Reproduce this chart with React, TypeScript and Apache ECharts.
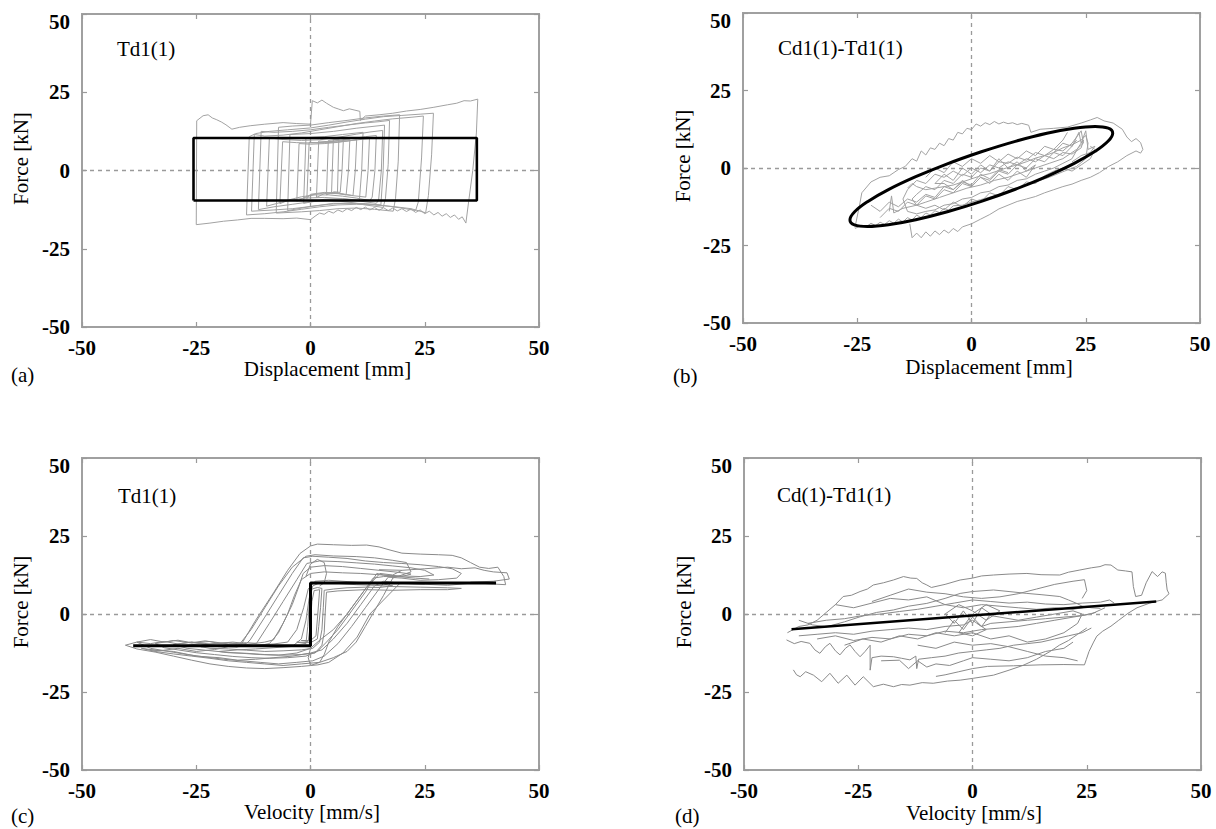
import React, { useEffect, useRef } from "react";
import * as echarts from "echarts";

// ---------- axis settings ----------
const axisMin = -50;
const axisMax = 50;
const axisStep = 25;

// ---------- panel (a): force vs displacement, Td1(1) ----------
const aModel = [[-25.6, -9.6], [-25.6, 10.4], [36.4, 10.4], [36.4, -9.6], [-25.6, -9.6]];
const aOuter = [[-25.0,-17.3],[-24.9,15.9],[-23.5,17.5],[-22.4,17.8],[-21.5,16.8],[-20.5,16.2],[-19.5,15.5],[-18.5,14.6],[-17.2,13.2],[-15.5,13.8],[-13.2,14.3],[-10,14.8],[-6,15.3],[-3,15.0],[0,14.8],[0.4,22.3],[1.5,21.6],[2.5,22.5],[3.5,21.5],[5,20.2],[6.2,19.6],[7.2,19.1],[8.5,19.7],[10.8,18.9],[10.9,16.0],[12,17.4],[15,17.8],[18,18.3],[21,19.0],[24,19.5],[27,20.2],[30,21.0],[32,21.5],[33.6,22.3],[35,22.2],[36.6,22.8],[36.3,12],[35.5,0],[34.6,-10],[34.0,-16.8],[33.2,-14.8],[32.4,-15.6],[31.5,-14.2],[30.6,-15.0],[29.7,-13.8],[28.8,-14.6],[27.9,-13.4],[27,-14.2],[26,-13.0],[25,-13.8],[24,-12.6],[23,-13.4],[22,-12.3],[21,-13.1],[20,-12.2],[19,-12.9],[18,-12.0],[17,-12.8],[16,-11.9],[15,-12.7],[14,-11.8],[13,-12.6],[12,-11.7],[11,-12.5],[10,-11.8],[9,-12.8],[8,-12.2],[7,-13.2],[6,-12.6],[5,-13.6],[4,-13.0],[3,-14.0],[2,-13.6],[1,-14.6],[0,-15.7],[-3,-15.2],[-6,-15.4],[-10,-15.3],[-13,-15.3],[-16,-15.8],[-19,-16.2],[-22,-16.8],[-25,-17.3]];
const aLoop2 = [[-14.0,-14.2],[-13.4,10.8],[-12,11.8],[-9,12.5],[-5,13.0],[0,13.6],[4,14.5],[8,15.5],[12,16.4],[16,17.2],[20,17.6],[24,18.0],[26.9,18.3],[26.5,5],[25.8,-8],[25.2,-13.5],[22,-12.2],[18,-11.5],[14,-11.0],[10,-10.8],[6,-11.0],[2,-11.6],[-2,-12.4],[-6,-13.2],[-10,-13.8],[-14.0,-14.2]];
const aLoop3 = [[-12.9,-13.0],[-12.3,11.5],[-10,11.0],[-6,11.3],[-2,12.0],[2,13.0],[6,14.0],[10,15.0],[14,15.8],[18,16.5],[22,17.0],[24.7,17.4],[24.3,4],[23.6,-10],[23.0,-12.8],[20,-12.0],[16,-11.2],[12,-10.6],[8,-10.4],[4,-10.8],[0,-11.5],[-4,-12.2],[-8,-12.6],[-12.9,-13.0]];
const aLoop4 = [[-11.4,-12.5],[-10.8,12.5],[-8,12.2],[-4,12.5],[0,13.0],[4,13.8],[8,14.5],[12,15.2],[15,15.6],[17.3,16.0],[17.0,2],[16.4,-9],[15.9,-11.8],[12,-11.0],[8,-10.0],[4,-9.6],[0,-10.0],[-4,-10.8],[-8,-11.6],[-11.4,-12.5]];
const aLoop5 = [[-9.6,-11.4],[-9.0,10.4],[-6,9.9],[-2,9.6],[2,9.8],[6,10.6],[10,11.6],[13,12.3],[15.8,12.8],[15.5,0],[14.9,-9.5],[14.4,-10.5],[11,-9.8],[7,-9.0],[3,-8.6],[-1,-8.8],[-5,-9.6],[-9.6,-11.4]];
const aLoop6 = [[-6.7,-10.6],[-6.1,9.2],[-3,8.9],[0,8.8],[3,9.0],[6,9.6],[9,10.2],[12,10.8],[14.4,11.2],[14.1,0],[13.5,-8.5],[13.0,-9.6],[10,-8.8],[7,-8.2],[4,-7.8],[1,-7.8],[-2,-8.4],[-4.5,-9.3],[-6.7,-10.6]];
const aLoop7 = [[-3.0,-9.8],[-2.5,8.6],[0,8.4],[3,8.6],[6,9.0],[9,9.6],[12.9,10.2],[12.6,0],[12.1,-8.5],[9,-8.0],[6,-7.4],[3,-7.2],[0,-7.8],[-3.0,-9.8]];
const aLoop8 = [[-0.8,-9.0],[-0.3,9.0],[2,8.8],[5,9.0],[8,9.4],[10.1,9.8],[9.8,0],[9.3,-8.0],[6,-7.2],[3,-7.0],[0,-7.6],[-0.8,-9.0]];
const aLoop9 = [[1.3,-8.6],[1.8,9.4],[4,9.2],[6,9.4],[8.6,9.8],[8.3,0],[7.8,-7.8],[5,-7.0],[3,-7.4],[1.3,-8.6]];
const aLoop10 = [[3.5,-7.8],[3.9,9.6],[5,9.8],[5.6,9.9],[7.2,10.2],[6.9,0],[6.5,-7.0],[5.2,-6.8],[3.5,-7.8]];
const aLoop11 = [[4.6,-7.4],[5.0,9.9],[6.2,10.0],[5.9,-7.2],[4.6,-7.4]];
const aLoop12 = [[-7.5,-13.6],[-7.0,13.8],[-4,14.2],[0,14.5],[4,15.3],[8,16.0],[12,16.8],[16,17.4],[19.5,17.8],[19.2,3],[18.6,-9],[18.1,-13.0],[14,-12.4],[10,-12.0],[6,-12.2],[2,-12.8],[-2,-13.2],[-7.5,-13.6]];
const aLoop13 = [[-5,-12.8],[-4.5,11.5],[0,11.8],[5,12.5],[10,13.5],[16.2,14.5],[15.9,0],[15.4,-11],[10,-10.5],[5,-10.5],[0,-11.5],[-5,-12.8]];
const aLoop14 = [[-1.5,-10.5],[-1,10.5],[3,10.8],[7,11.5],[11.5,12.2],[11.2,0],[10.7,-9.5],[7,-9],[3,-9.2],[-1.5,-10.5]];
const aTraces = [aOuter, aLoop2, aLoop3, aLoop4, aLoop5, aLoop6, aLoop7, aLoop8, aLoop9, aLoop10, aLoop11, aLoop12, aLoop13, aLoop14];

// ---------- panel (b): force vs displacement, Cd1(1)-Td1(1) ----------
const bModel = [[2.15,5.25],[9.59,8.60],[16.5,11.2],[22.48,12.81],[27.05,13.37],[29.92,12.84],[30.9,11.25],[29.92,8.70],[27.05,5.37],[22.48,1.49],[16.5,-2.68],[9.59,-6.86],[2.15,-10.75],[-5.29,-14.10],[-12.2,-16.68],[-18.18,-18.31],[-22.75,-18.87],[-25.62,-18.34],[-26.6,-16.75],[-25.62,-14.20],[-22.75,-10.87],[-18.18,-6.99],[-12.2,-2.82],[-5.29,1.36],[2.15,5.25]];
const bOuter = [[-25.5,-19.2],[-24.5,-12],[-24,-8],[-22,-4.5],[-20,-3],[-18,-2.5],[-16,-0.5],[-14.5,0.5],[-13,3],[-12,2.2],[-11,5.5],[-10,4.2],[-9,6.5],[-8,6.0],[-7,8.0],[-6,7.2],[-5,9.5],[-4,9.0],[-3,11.5],[-2,11.0],[-1,12.8],[0,12.4],[1,14.2],[2,13.5],[3,14.6],[4,14.0],[5,15.0],[6,14.2],[7,14.8],[8,14.3],[9,14.6],[10,14.0],[11,14.4],[12.5,13.8],[13,11.5],[15,12.5],[18,12.8],[21,13.2],[24,14.5],[26,15.5],[27.5,16.3],[29,15.2],[31,14.5],[33,12.5],[34,10],[35,8.5],[36,9.5],[37,8.2],[37.5,6.0],[37,4.8],[36,5.5],[34,4.0],[32,2.0],[30,0.5],[28,-1.5],[26,-3.0],[24,-4.0],[22,-5.2],[20,-6.0],[18,-7.0],[16,-8.0],[14,-9.2],[12,-10.0],[10,-10.8],[8,-12.0],[6,-13.2],[4,-15.0],[2,-16.5],[0,-18.0],[-2,-19.0],[-3,-20.5],[-4,-19.5],[-5,-21.0],[-6,-20.0],[-7,-21.5],[-8,-20.3],[-9,-22.0],[-10,-20.6],[-11,-22.5],[-12,-21.0],[-13,-22.5],[-13.5,-18]];
const bLoop2 = [[-25.5,-19.5],[-24,-18.5],[-23,-19.0],[-22,-17.8],[-21,-18.6],[-20,-17.5],[-19,-18.2],[-18,-17.0],[-17,-17.8],[-16,-16.5],[-15,-17.4],[-14,-16.0],[-13,-16.8],[-12,-15.2],[-11,-16.0],[-10,-14.5],[-9,-15.2],[-8,-13.8],[-7,-14.4],[-6,-13.0],[-5,-13.6],[-4,-12.2],[-2,-12.0],[0,-11.0],[2,-10.2],[5,-9.0],[8,-7.5],[11,-6.0],[14,-4.5],[17,-3.0],[20,-1.2],[23,0.5],[25,3.0],[25.5,8],[25,10.5],[24,9],[22,7.5],[20,6.5],[18,5.0],[16,4.0],[14,3.2],[12,2.0],[10,1.0],[8,0.2],[6,-0.8],[4,-1.8],[2,-2.5],[0,-3.5],[-2,-4.5],[-4,-5.5],[-6,-6.0],[-8,-6.5],[-10,-7.0],[-12,-6.0],[-13,-5.0],[-14,-6.5]];
const bLoop3 = [[-14,-7],[-12,-4],[-10,-5],[-8,-2],[-6,-3],[-4,-1],[-2,-2.5],[0,0],[2,-1.5],[4,1],[6,0],[8,2],[10,1],[12,3],[14,2],[16,4],[18,3],[20,5],[22,4.5],[24,6.5],[24.5,9],[23.5,7],[22,3],[20,1.5],[18,0],[16,-1],[14,-2],[12,-3.5],[10,-4],[8,-5.5],[6,-6],[4,-7.5],[2,-8],[0,-9.5],[-2,-10],[-4,-11.5],[-6,-12],[-8,-13.5],[-10,-14],[-12,-14.8],[-14,-14],[-15,-10],[-14,-7]];
const bLoop4 = [[-12,-8.5],[-10,-6],[-8,-7],[-6,-4],[-4,-5],[-2,-2],[0,-3],[2,0],[4,-1],[6,2],[8,1.5],[10,3.5],[12,2.5],[14,5],[16,4],[18,6],[20,5.5],[22,8],[23,10],[24,12],[24.5,8],[23,6],[20,3],[17,1.5],[14,0],[11,-1.5],[8,-3],[5,-4],[2,-5.5],[-1,-6.5],[-4,-8],[-7,-9.5],[-10,-11],[-12,-12],[-13,-10],[-12,-8.5]];
const bLoop5 = [[-8,-5],[-6,-2],[-4,-4],[-2,0],[0,-2],[2,1],[4,-1],[6,3],[8,0],[10,2],[12,-1],[14,1],[12,-3],[10,-1],[8,-4],[6,-2],[4,-5],[2,-3],[0,-6],[-2,-4],[-4,-7],[-6,-5],[-8,-5]];
const bLoop6 = [[-18,-14],[-17.5,-9],[-17,-14.5],[-15,-13],[-12,-12],[-10,-13],[-8,-12],[-6,-13.5],[-4,-11],[-2,-12.5],[0,-10],[2,-11],[4,-8],[6,-9],[8,-6],[10,-7],[12,-4.5],[14,-5],[16,-2.5],[18,-1],[20,0],[22,-1],[24,1],[26,3],[27,6],[26,7]];
const bLoop7 = [[18,5],[20,8],[22,7],[23.5,11.5],[24,8],[25,12],[25.5,6],[27,7],[26,5],[24,4],[22,2]];
const bLoop8 = [[-20,-16],[-18,-13],[-16,-14],[-14,-11],[-12,-12],[-10,-9],[-8,-10],[-6,-7],[-4,-8],[-2,-5],[0,-6],[2,-3],[4,-4],[6,-1],[8,-2],[10,1],[12,0],[14,3],[16,2],[18,5],[20,4],[22,7],[23,9]];
const bLoop9 = [[-10,-3],[-8,0],[-6,-1.5],[-4,2],[-2,0.5],[0,3],[2,1.5],[4,4],[6,2],[8,4.5],[10,3],[12,5.5],[14,4],[16,7],[18,6],[20,9],[21,11.5]];
const bLoop10 = [[-22,-12],[-20,-14],[-18,-11],[-16,-12.5],[-14,-10],[-12,-11],[-10,-8.5],[-8,-9.5],[-6,-6],[-4,-7],[-2,-4.5],[0,-5.5],[2,-2],[4,-3.5],[6,-0.5],[8,-1.5]];
const bTraces = [bOuter, bLoop2, bLoop3, bLoop4, bLoop5, bLoop6, bLoop7, bLoop8, bLoop9, bLoop10];

// ---------- panel (c): force vs velocity, Td1(1) ----------
const cModel = [[-38.8,-10.2],[0,-10.2],[0,9.9],[40.6,9.9]];
const cLoop1 = [[-40.5,-10],[-38,-9],[-35,-9.5],[-32,-8.8],[-29,-9.6],[-26,-9.0],[-23,-9.8],[-20,-9.4],[-17,-10],[-15.4,-10.4],[-12,-2],[-8,7],[-5,14],[-2.3,19.4],[0,21.8],[1.5,22.4],[5,22.2],[9,22.0],[12.3,22.1],[15,21.5],[17.4,20.5],[20,19.5],[24,19.2],[28,19.0],[31,18.8],[33,18.0],[35,16.5],[37,15.0],[39,14.6],[41,15.0],[42.3,12.0],[42.7,9.4],[40,9.6],[36,10.0],[30,9.2],[24,9.6],[19.6,9.9],[16,4.5],[13,0],[10.2,-7.4],[7.1,-12.5],[4,-15.5],[1.6,-16.3],[-2,-16.8],[-6,-17.2],[-10,-17.5],[-14,-17.3],[-18,-16.8],[-22,-16.0],[-26,-14.8],[-30,-13.5],[-34,-12.2],[-38,-11.2],[-40.5,-10]];
const cLoop2 = [[-38,-9.0],[-35,-8.2],[-32,-9.0],[-29,-8.4],[-26,-9.2],[-23,-8.6],[-20,-9.4],[-17,-9.0],[-14,-9.5],[-13.2,-8.3],[-10,-1],[-7,6],[-4,13],[-1.6,18],[0.5,18.5],[4,18.2],[8,17.8],[12,17.0],[16,16.5],[20,16.2],[24,15.8],[28,15.2],[31,14.5],[33,13.0],[32,11.5],[28,11.0],[24,10.8],[20,11.5],[17,11.8],[15,8],[12,2],[9,-4],[6,-9.5],[3,-13.5],[0.5,-15],[-3,-15.5],[-7,-16],[-11,-15.5],[-15,-15.0],[-19,-14.5],[-23,-13.8],[-27,-13],[-31,-12],[-35,-11],[-38,-9.0]];
const cLoop3 = [[-34,-9.5],[-30,-8.5],[-26,-9.3],[-22,-8.8],[-18,-9.6],[-14,-9.2],[-11.8,-9.4],[-9,-3],[-6,4],[-3,11],[-0.8,16.2],[2,17],[6,16.8],[10,16.4],[14,16],[18,15.4],[22,14.8],[25,14.0],[27,12.5],[24,12],[20,12.2],[16,12.5],[14.5,13],[12,7],[9,1],[6,-5],[3.5,-9],[1.5,-12],[-1,-13.5],[-5,-14],[-9,-14.2],[-13,-14.0],[-17,-13.6],[-21,-13],[-25,-12.4],[-29,-11.5],[-32,-10.8],[-34,-9.5]];
const cLoop4 = [[-30,-9.8],[-26,-9.0],[-22,-9.6],[-18,-9.2],[-14,-9.8],[-10,-9.0],[-8.1,-8.3],[-6,-3],[-4,3],[-2.5,9],[-1.6,13],[0,15],[3,15.5],[7,15.2],[11,14.6],[15,14.0],[19,13.4],[22,12.8],[20,12.0],[16,12.0],[13.7,11.5],[11,6],[8,0],[5,-5],[2.1,-8.3],[0,-11],[-3,-12.5],[-7,-13.2],[-11,-13.0],[-15,-12.6],[-19,-12.2],[-23,-11.6],[-27,-11],[-30,-9.8]];
const cLoop5 = [[-37,-11],[-33,-11.8],[-29,-11.0],[-25,-12.0],[-21,-11.4],[-18,-10.5],[-16,-10.6],[-13,-5],[-10,2],[-7,9],[-4,15],[-1,18.5],[1,19],[5,18.6],[10,18.4],[14,18.0],[18,17.2],[21,16.5],[22,13.5],[20,12.5],[18,11.5],[16,6],[14,1],[12,-4],[10,-9],[8,-12],[5,-14],[2,-15.5],[-2,-16],[-6,-16.5],[-10,-16],[-14,-15.5],[-18,-15],[-22,-14.2],[-26,-13.5],[-30,-12.8],[-34,-12.0],[-37,-11]];
const cLoop6 = [[-24,-10.5],[-20,-10.0],[-16,-10.5],[-12,-10],[-8,-9.6],[-5,-9.0],[-3,-5],[-1.5,2],[-0.5,8],[1,10.5],[4,10.8],[8,10.4],[12,10.0],[16,9.6],[18,9.0],[15,8.5],[12,8.6],[8,8.4],[5,8.0],[3,7.6],[2.8,2],[2.5,-5],[2,-9],[0.5,-11],[-2,-11.5],[-6,-11.8],[-10,-12],[-14,-11.6],[-18,-11.2],[-22,-11],[-24,-10.5]];
const cLoop7 = [[-20,-12],[-16,-11.5],[-12,-11.2],[-8,-10.8],[-4,-10.4],[-2,-8],[-1,-2],[-0.3,5],[0.5,9],[2,10],[6,9.8],[10,9.4],[14,9.2],[18,8.8],[24,8.6],[30,8.4],[33,8.2],[30,7.8],[24,7.8],[18,7.6],[12,7.8],[6,7.4],[3.5,7],[3.2,0],[3,-6],[2.5,-10],[1,-12.5],[-2,-13],[-6,-13.2],[-10,-13],[-14,-12.6],[-18,-12.4],[-20,-12]];
const cLoop8 = [[-3,-9],[-1,-9.5],[-0.6,-4],[-0.3,3],[0.3,8],[1.5,8.5],[2.5,8.2],[2.2,2],[1.8,-4],[1.5,-8],[0,-9.2],[-3,-9]];
const cLoop9 = [[-2,-8.5],[-0.5,-8.8],[0,-3],[0.3,4],[0.8,7.5],[2,7.8],[1.6,0],[1.2,-7],[0,-8.5],[-2,-8.5]];
const cLoop10 = [[20,14],[18,12.5],[15.2,13],[12,8],[9,2],[6,-4],[4,-9],[3,-13],[2,-15.5],[0,-16.5],[-0.5,-14],[0,-11]];
const cLoop11 = [[-1,12],[0,16],[1.5,17.5],[3,16.5],[3.5,13],[3,10],[2,9]];
const cLoop12 = [[15,14.2],[20,14.0],[25,14.5],[30,15.0],[33,14.5],[36,14.8],[38,14.0],[40,13.5],[43,13.2],[43.5,11.2],[40,10.5],[35,10.2]];
const cLoop13 = [[-28,-10.2],[-24,-9.5],[-20,-10.5],[-16,-9.8],[-12,-10.3],[-9,-9.5],[-7,-6],[-5,0],[-3.5,6],[-2,11],[0,13],[3,13.5],[7,13.2],[11,13],[15,12.6],[19,12],[23,11.5],[26,11.2]];
const cLoop14 = [[25,9.5],[20,9.8],[16,10.5],[14,9],[11,3],[8,-3],[5,-8],[2.5,-11.5],[0,-12.5],[-4,-13.5],[-8,-14],[-12,-14.5],[-16,-14.8],[-20,-14],[-25,-13.5],[-30,-12],[-35,-11.5]];
const cTraces = [cLoop1, cLoop2, cLoop3, cLoop4, cLoop5, cLoop6, cLoop7, cLoop8, cLoop9, cLoop10, cLoop11, cLoop12, cLoop13, cLoop14];

// ---------- panel (d): force vs velocity, Cd(1)-Td1(1) ----------
const dModel = [[-39.6,-4.9],[40.2,4.0]];
const dOuterTop = [[-40.5,-6],[-38,-4],[-36,-3.5],[-34,-2],[-32,0.5],[-30,3],[-28.3,5.6],[-26.5,6.0],[-24.6,7.2],[-23,8.0],[-21.7,9.3],[-19.5,10.0],[-17.3,10.9],[-15.1,12.0],[-13.5,11.5],[-12.2,11.4],[-11,10.0],[-10,9.3],[-9,8.5],[-6,9.5],[-2.7,10.9],[0,11.5],[2,12.2],[4.6,12.5],[8,12.8],[11.9,13.0],[15,12.6],[19.1,12.5],[21,13.4],[23.5,14.1],[26,14.8],[27.9,15.2],[29,15.8],[30.3,15.7],[31.8,14.1],[33.5,13.8],[34.9,13.5],[35.2,8.8],[35.7,5.6],[37,6.0],[38,10],[39.3,13.6],[40.5,12.0],[41.5,13.5],[42.2,13.1],[42.4,10],[42.6,7.7],[43,6.5],[41.5,4.5],[40,4.0],[38.8,3.5],[36,2],[34,0.2],[32,-2],[30.3,-3.9],[28.5,-5.5],[27.2,-7.1],[26.5,-9],[25.5,-12],[24.9,-14.6],[24.5,-16.3],[20,-16.2],[14.8,-16.3],[9,-16.6],[3.3,-16.8],[0,-17.5],[-3,-18.5],[-6,-19.5],[-8,-20]];
const dOuterBottom = [[-39.2,-17.9],[-38.5,-19.5],[-37.7,-20.1],[-36.5,-18.5],[-34.8,-19.6],[-33,-21.7],[-31.2,-19.0],[-29.4,-22.2],[-27.5,-19.6],[-25.7,-22.8],[-23.9,-20.1],[-21.7,-23.3],[-19.5,-22.5],[-17.3,-23.3],[-15.5,-22.6],[-13.7,-22.8],[-11,-22.0],[-8.6,-22.2],[-5.5,-21.5],[-2.7,-21.2],[0.2,-20.6],[4.6,-19.6],[8,-18.0],[11,-16.5],[14,-14.5],[17,-12.0],[19,-10],[21,-8.5],[23,-6.5],[25,-4.5]];
const dWavyMid = [[-40.7,-8.3],[-39,-9.5],[-37.5,-8.8],[-35.6,-9.4],[-34.5,-11.5],[-33.4,-12.6],[-32.2,-10.5],[-31.2,-9.4],[-30,-11.8],[-29,-13.1],[-27.8,-11],[-26.8,-9.9],[-25.7,-12],[-24.6,-13.7],[-23.5,-12],[-22.4,-10],[-22.4,-18],[-22,-14],[-20,-13.5],[-17.3,-13.7],[-15.5,-14.2],[-13.7,-14.7],[-12.4,-13.5],[-12.2,-17.5],[-11.8,-14.5],[-9,-14],[-6,-13.5],[-3,-12.5],[0,-12],[3,-11.5],[6,-11],[9,-10],[12,-9.5],[15,-9],[18,-8],[21,-7],[24,-6],[26,-4.5]];
const dUpperMid = [[-38,-2],[-35,-3.5],[-31.9,-4.1],[-28,-2.5],[-24.6,-0.9],[-21,0.5],[-17.3,1.3],[-14,2.5],[-10,3.4],[-6,5],[-2.7,6.6],[0,7.2],[4.6,7.7],[8,7.2],[11.9,6.6],[15,6.2],[19.1,5.6],[21,4.5],[22.8,3.4],[24,2.5],[26,2.0],[28,1.8]];
const dMid1 = [[-36,-3],[-32,-2],[-28,-1.5],[-24,-0.5],[-20,0],[-16,0.8],[-12,1.5],[-8,2.5],[-4,3.5],[0,4.5],[4,4.0],[8,3.5],[12,3.8],[16,3.2],[20,3.0],[24,3.5],[28,3.8],[30,4.5],[31,3.5]];
const dMid2 = [[-38,-7],[-34,-6.5],[-30,-6.0],[-26,-6.5],[-22,-5.5],[-18,-5.0],[-14,-4.5],[-10,-5.0],[-6,-4.0],[-2,-3.5],[0,-2],[2,-4],[4,-3],[8,-2.5],[12,-2],[16,-1.5],[20,-1.0],[24,-0.5],[27,0.5]];
const dCenter = [[-6,-6],[-4,-2],[-2,-5],[0,-1],[2,-4],[4,0],[2,2],[0,-3],[-2,1],[-4,-3],[-6,0],[-3,3],[0,1],[3,-2],[6,1],[3,3],[0,0],[-3,-6],[0,-7],[3,-5],[1,-3]];
const dLoopA = [[-28,-10],[-24,-8],[-20,-9],[-16,-7],[-12,-8],[-8,-6],[-4,-7],[0,-6],[4,-8],[8,-7],[12,-9],[16,-8],[20,-6],[23,-3],[24,0],[22,1],[18,0],[14,-1],[10,-2],[6,-1],[2,0]];
const dLoopB = [[-20,-15],[-16,-14.8],[-14,-17.5],[-12,-15],[-10,-17],[-8,-16],[-5,-16.5],[-2,-15],[0,-14],[4,-14.5],[8,-15],[12,-14],[16,-12],[20,-11],[22,-9]];
const dLoopC = [[-22,4],[-18,6],[-14,8],[-10,7],[-6,6.5],[-2,5.5],[2,5],[6,5.5],[10,6.5],[14,8],[18,9.5],[22,10.5],[24.5,11],[25,7.5],[24,5]];
const dLoopD = [[-34,-8],[-30,-7],[-26,-8.5],[-22,-7.5],[-18,-8],[-14,-6.5],[-10,-7],[-6,-5.5],[-2,-6],[2,-5],[6,-4.5],[10,-4],[14,-3],[18,-2],[22,-1],[26,0],[29,2]];
const dLoopE = [[-30,3],[-26,2],[-22,3.5],[-18,5],[-14,4.5],[-10,5.5],[-6,3],[-2,2],[2,3],[6,2.5],[10,2],[14,1.5],[18,2],[22,1.5],[26,2.5]];
const dLoopF = [[-12,-10],[-8,-11],[-4,-9],[0,-10],[4,-9.5],[8,-10.5],[12,-12],[16,-13.5],[20,-14],[23,-15]];
const dTraces = [dOuterTop, dOuterBottom, dWavyMid, dUpperMid, dMid1, dMid2, dCenter, dLoopA, dLoopB, dLoopC, dLoopD, dLoopE, dLoopF];

// ---------- texts ----------
const xTitles = ["Displacement [mm]", "Displacement [mm]", "Velocity [mm/s]", "Velocity [mm/s]"];
const yTitle = "Force [kN]";
const notes = ["Td1(1)", "Cd1(1)-Td1(1)", "Td1(1)", "Cd(1)-Td1(1)"];
const panelLabels = ["(a)", "(b)", "(c)", "(d)"];

const FONT = "Liberation Serif";

const panels = [
  { grid: { left: 82, top: 14, width: 457, height: 313 }, traces: aTraces, model: aModel, smooth: false, gray: "#a2a2a2", modelWidth: 2.6, xGap: 31, xPad: 34, yGap: 51, note: [117, 38], label: [11, 364] },
  { grid: { left: 743, top: 13, width: 457, height: 310 }, traces: bTraces, model: bModel, smooth: 0.4, gray: "#a2a2a2", modelWidth: 3, xGap: 33, xPad: 35, yGap: 50, note: [778, 37], label: [673, 365] },
  { grid: { left: 82, top: 458, width: 457, height: 312 }, traces: cTraces, model: cModel, smooth: false, gray: "#8a8a8a", modelWidth: 3, xGap: 31, xPad: 3, yGap: 51, note: [118, 485], label: [11, 805] },
  { grid: { left: 744, top: 458, width: 457, height: 312 }, traces: dTraces, model: dModel, smooth: false, gray: "#8a8a8a", modelWidth: 2.6, xGap: 32, xPad: 3, yGap: 50, note: [777, 484], label: [675, 805] },
];

function buildOption() {
  const grid: any[] = [];
  const xAxis: any[] = [];
  const yAxis: any[] = [];
  const series: any[] = [];
  const graphic: any[] = [];
  const tickStyle = { show: true, inside: true, length: 5, lineStyle: { color: "#9a9a9a", width: 1.2 } };
  const labelBase = { color: "#000", fontFamily: FONT, fontSize: 21 };
  const tickLabel = { ...labelBase, fontWeight: "bold" as const };

  panels.forEach((p, i) => {
    grid.push({ ...p.grid, show: true, borderColor: "#a0a0a0", borderWidth: 2, backgroundColor: "transparent" });
    const common = { type: "value", gridIndex: i, min: axisMin, max: axisMax, interval: axisStep, splitLine: { show: false }, axisLine: { show: false, onZero: false }, axisTick: tickStyle };
    xAxis.push({
      ...common, position: "bottom",
      axisLabel: { ...tickLabel, margin: 10 },
      name: xTitles[i], nameLocation: "middle", nameGap: p.xGap,
      nameTextStyle: { ...labelBase, padding: [0, 0, 0, p.xPad] },
    });
    xAxis.push({ ...common, position: "top", axisLabel: { show: false } });
    yAxis.push({
      ...common, position: "left",
      axisLabel: {
        ...tickLabel, margin: 12,
        formatter: (v: number) => (v === axisMax ? "{top|" + v + "}" : String(v)),
        rich: { top: { ...tickLabel, padding: [15, 0, 0, 0] } },
      },
      name: yTitle, nameLocation: "middle", nameRotate: 90, nameGap: p.yGap,
      nameTextStyle: { ...labelBase, padding: [0, 0, 0, 24] },
    });
    yAxis.push({ ...common, position: "right", axisLabel: { show: false } });

    p.traces.forEach((t, k) => {
      series.push({
        type: "line", xAxisIndex: 2 * i, yAxisIndex: 2 * i, data: t,
        showSymbol: false, symbol: "none", silent: true, z: 2,
        lineStyle: { color: p.gray, width: 1 },
        markLine: k === 0 ? {
          silent: true, symbol: "none", label: { show: false },
          lineStyle: { color: "#9a9a9a", type: [4, 4], width: 1.3 },
          data: [{ xAxis: 0 }, { yAxis: 0 }],
        } : undefined,
      });
    });
    series.push({
      type: "line", xAxisIndex: 2 * i, yAxisIndex: 2 * i, data: p.model,
      showSymbol: false, symbol: "none", silent: true, z: 5, smooth: p.smooth,
      lineStyle: { color: "#000", width: p.modelWidth },
    });

    graphic.push({ type: "text", left: p.note[0], top: p.note[1], style: { text: notes[i], font: `21px "${FONT}"`, fill: "#000" } });
    graphic.push({ type: "text", left: p.label[0], top: p.label[1], style: { text: panelLabels[i], font: `21px "${FONT}"`, fill: "#000" } });
  });

  return { animation: false, backgroundColor: "#fff", grid, xAxis, yAxis, series, graphic };
}

export default function App() {
  const ref = useRef<HTMLDivElement>(null);
  useEffect(() => {
    if (!ref.current) return;
    const chart = echarts.init(ref.current, undefined, { renderer: "svg" });
    chart.setOption(buildOption() as any);
    return () => chart.dispose();
  }, []);
  return <div ref={ref} style={{ position: "fixed", left: 0, top: 0, width: 1216, height: 829, background: "#fff" }} />;
}
